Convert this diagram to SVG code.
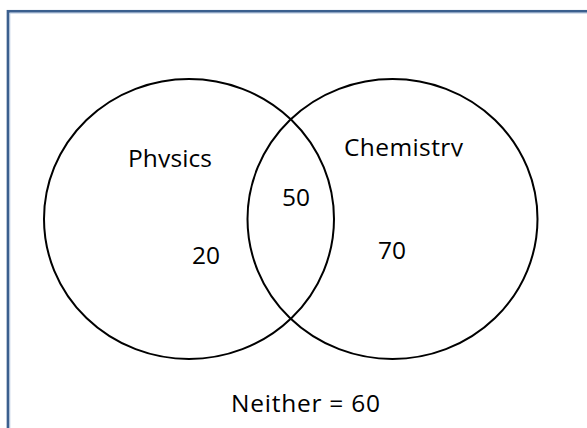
<svg xmlns="http://www.w3.org/2000/svg" width="587" height="428" viewBox="0 0 587 428">
<style>
.ring{fill:none;stroke:#000;stroke-width:2}
.t{font-family:"Open Sans","Liberation Sans",sans-serif;font-size:24.5px;fill:#000}
</style>
<defs>
<clipPath id="cP"><rect x="100" y="120" width="150" height="47.5"/></clipPath>
<clipPath id="cC"><rect x="330" y="110" width="160" height="46.5"/></clipPath>
</defs>
<rect width="587" height="428" fill="#fff"/>
<g id="frame">
<rect x="8" y="11.3" width="620" height="460" fill="none" stroke="#3B5F8E" stroke-width="2.7"/>
<path d="M9.8 428V13.1H587" fill="none" stroke="#A9BEDB" stroke-width="0.8"/>
</g>
<g id="physics">
<ellipse class="ring" cx="189" cy="219" rx="145" ry="140"/>
<text class="t" x="128" y="167" clip-path="url(#cP)" textLength="84">Physics</text>
<text class="t" x="192" y="264">20</text>
</g>
<g id="chemistry">
<ellipse class="ring" cx="392.5" cy="219" rx="145" ry="140"/>
<text class="t" x="344" y="156" clip-path="url(#cC)" textLength="119">Chemistry</text>
<text class="t" x="378" y="259">70</text>
</g>
<g id="both">
<text class="t" x="282" y="206">50</text>
</g>
<g id="neither">
<text class="t" x="231" y="411.5" textLength="149">Neither = 60</text>
</g>
<g id="connectors"/>
</svg>
